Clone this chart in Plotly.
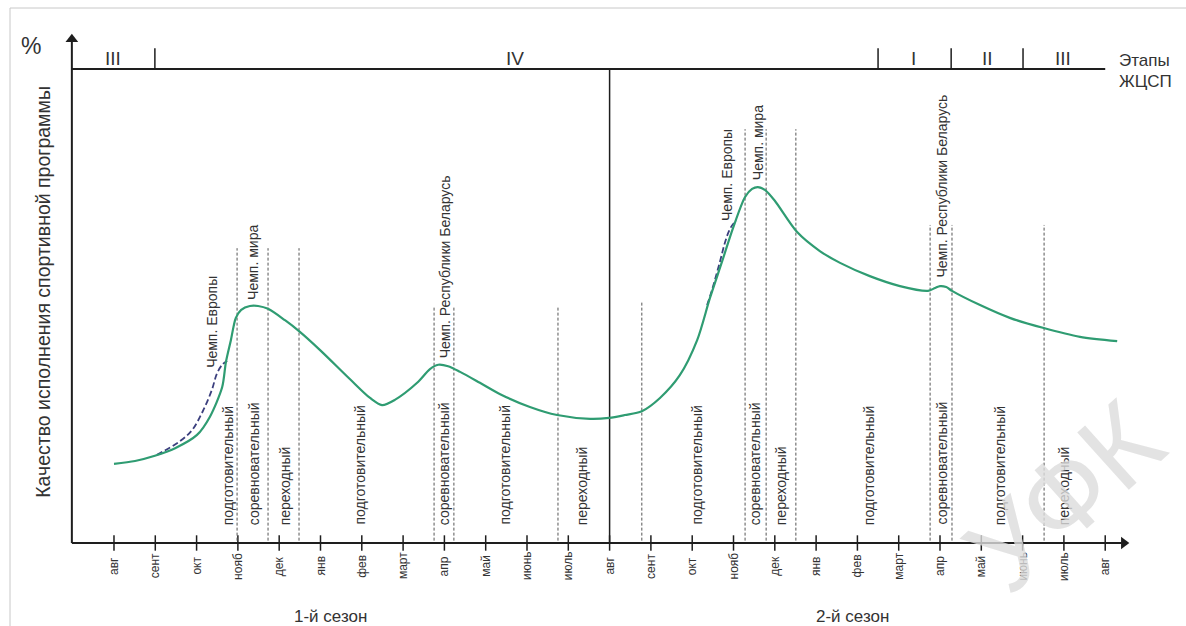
import plotly.graph_objects as go

# ---------------- data ----------------
months = ["авг", "сент", "окт", "нояб", "дек", "янв", "фев", "март", "апр", "май", "июнь", "июль"] * 2 + ["авг"]
month_x = list(range(25))

# main curve (x in months from the first August, y = quality)
curve_x = [0.00, 0.51, 0.99, 1.48, 2.01, 2.32, 2.62, 2.71, 2.83, 2.95, 3.08, 3.29, 3.49, 3.73,
           4.14, 4.48, 4.99, 5.71, 6.20, 6.49, 6.80, 7.34, 7.65, 7.85, 8.09, 8.38, 8.86, 9.35,
           10.07, 10.73, 11.53, 11.99, 12.37, 12.78, 13.22, 13.70, 14.12, 14.43, 14.72, 14.99,
           15.28, 15.45, 15.59, 15.76, 16.00, 16.54, 17.09, 17.58, 18.30, 19.03, 19.71, 19.88,
           20.00, 20.15, 20.29, 20.97, 21.69, 22.49, 23.39, 24.29]
curve_y = [16.7, 17.3, 18.4, 20.0, 22.8, 26.6, 32.9, 38.2, 42.8, 47.5, 49.2, 50.0, 50.0, 49.4,
           47.0, 44.7, 40.7, 34.6, 30.6, 29.1, 30.2, 33.8, 36.7, 37.6, 37.3, 36.1, 33.8, 31.4,
           28.7, 27.0, 26.2, 26.4, 27.0, 27.8, 30.6, 35.4, 42.8, 51.7, 59.3, 66.5,
           73.0, 74.7, 75.1, 74.5, 72.2, 65.6, 61.6, 59.1, 56.3, 54.2, 53.2, 53.8,
           54.2, 54.0, 53.2, 50.2, 47.5, 45.4, 43.5, 42.6]

# alternative (dashed) approach to the European championship
alt1_x = [1.04, 1.60, 1.89, 2.15, 2.37, 2.49, 2.62, 2.74]
alt1_y = [18.6, 21.5, 23.8, 27.8, 32.3, 35.7, 37.6, 38.4]
alt2_x = [14.36, 14.48, 14.67, 14.79, 14.89, 14.99, 15.08]
alt2_y = [50.2, 53.4, 59.3, 63.3, 65.8, 67.3, 67.9]

# phase boundaries
boundary_x = [2.98, 3.73, 4.48, 7.75, 8.23, 10.75, 12.78, 15.28, 15.79, 16.51, 19.76, 20.29, 22.52]
boundary_top = [62.2, 62.2, 62.2, 49.8, 49.8, 49.8, 51.0, 87.3, 87.3, 87.3, 67.1, 67.1, 67.1]

phase_names = ["подготовительный", "соревновательный", "переходный", "подготовительный",
               "соревновательный", "подготовительный", "переходный",
               "подготовительный", "соревновательный", "переходный", "подготовительный",
               "соревновательный", "подготовительный", "переходный"]
phase_x = [2.76, 3.41, 4.14, 5.96, 8.01, 9.47, 11.33,
           14.12, 15.52, 16.17, 18.30, 20.05, 21.45, 23.00]

event_names = ["Чемп. Европы", "Чемп. мира", "Чемп. Республики Беларусь"] * 2
event_x = [2.37, 3.37, 8.01, 14.84, 15.59, 20.05]
event_y = [36.5, 50.8, 38.6, 67.5, 76.2, 55.5]

stage_names = ["III", "IV", "I", "II", "III"]
stage_x = [-0.02, 9.71, 19.35, 21.14, 22.98]
stage_ticks = [0.99, 18.5, 20.27, 22.01]

season_names = ["1-й сезон", "2-й сезон"]
season_x = [5.25, 17.89]

# ---------------- figure ----------------
FONT = "Liberation Sans, Arial, sans-serif"
GREEN = "#2f9c72"
NAVY = "#3b3f7e"
BLACK = "#1e1e1e"

fig = go.Figure()

# axes lines
fig.add_trace(go.Scatter(x=[-1.02, -1.02], y=[0, 106], mode="lines",
                         line=dict(color=BLACK, width=2), hoverinfo="skip"))
fig.add_trace(go.Scatter(x=[-1.02, 24.4], y=[0, 0], mode="lines",
                         line=dict(color=BLACK, width=2), hoverinfo="skip"))
fig.add_trace(go.Scatter(x=[-1.02], y=[106.3], mode="markers",
                         marker=dict(symbol="triangle-up", size=11, color=BLACK), hoverinfo="skip"))
fig.add_trace(go.Scatter(x=[24.45], y=[0], mode="markers",
                         marker=dict(symbol="triangle-right", size=11, color=BLACK), hoverinfo="skip"))
# month ticks
fig.add_trace(go.Scatter(x=month_x, y=[0] * len(month_x), mode="markers",
                         marker=dict(symbol="line-ns", size=11, line=dict(color=BLACK, width=1.5)),
                         hoverinfo="skip"))
# top stage line
fig.add_trace(go.Scatter(x=[-1.02, 24.0], y=[100, 100], mode="lines",
                         line=dict(color=BLACK, width=2), hoverinfo="skip"))
for sx in stage_ticks:
    fig.add_trace(go.Scatter(x=[sx, sx], y=[100, 104.4], mode="lines",
                             line=dict(color=BLACK, width=1.5), hoverinfo="skip"))
# season separator
fig.add_trace(go.Scatter(x=[12, 12], y=[0, 100], mode="lines",
                         line=dict(color=BLACK, width=1.5), hoverinfo="skip"))

# phase boundaries
for bx, bt in zip(boundary_x, boundary_top):
    fig.add_trace(go.Scatter(x=[bx, bx], y=[0.5, bt], mode="lines",
                             line=dict(color="#555555", width=1, dash="3px,2px"), hoverinfo="skip"))

# curves
fig.add_trace(go.Scatter(x=alt1_x, y=alt1_y, mode="lines",
                         line=dict(color=NAVY, width=1.8, dash="6px,3px", shape="spline"), hoverinfo="skip"))
fig.add_trace(go.Scatter(x=alt2_x, y=alt2_y, mode="lines",
                         line=dict(color=NAVY, width=1.8, dash="6px,3px", shape="spline"), hoverinfo="skip"))
fig.add_trace(go.Scatter(x=curve_x, y=curve_y, mode="lines",
                         line=dict(color=GREEN, width=2.2, shape="spline", smoothing=0.8), hoverinfo="skip"))

ann = []
for m, x in zip(months, month_x):
    ann.append(dict(x=x, y=-4.85, text=m, textangle=-90, showarrow=False,
                    xanchor="center", yanchor="middle", font=dict(size=12, color="#333", family=FONT)))
for name, x in zip(phase_names, phase_x):
    ann.append(dict(x=x, y=3.4, text=name, textangle=-90, showarrow=False,
                    xanchor="center", yanchor="bottom", font=dict(size=14, color="#333", family=FONT)))
for name, x, y in zip(event_names, event_x, event_y):
    ann.append(dict(x=x, y=y, text=name, textangle=-90, showarrow=False,
                    xanchor="center", yanchor="bottom", font=dict(size=14, color="#333", family=FONT)))
for name, x in zip(stage_names, stage_x):
    ann.append(dict(x=x, y=102.3, text=name, showarrow=False, xanchor="center", yanchor="middle",
                    font=dict(size=19, color="#333", family=FONT)))
for name, x in zip(season_names, season_x):
    ann.append(dict(x=x, y=-15.6, text=name, showarrow=False, xanchor="center", yanchor="middle",
                    font=dict(size=17, color="#333", family=FONT)))
ann.append(dict(x=24.29, y=101.9, text="Этапы", showarrow=False, xanchor="left", yanchor="middle",
                font=dict(size=17, color="#333", family=FONT)))
ann.append(dict(x=24.29, y=97.3, text="ЖЦСП", showarrow=False, xanchor="left", yanchor="middle",
                font=dict(size=17, color="#333", family=FONT)))
ann.append(dict(x=-2.01, y=104.9, text="%", showarrow=False, xanchor="center", yanchor="middle",
                font=dict(size=23, color="#333", family=FONT)))
ann.append(dict(x=-1.72, y=53.0, text="Качество исполнения спортивной программы", textangle=-90,
                showarrow=False, xanchor="center", yanchor="middle",
                font=dict(size=19.5, color="#333", family=FONT)))
# watermark
ann.append(dict(x=23.0, y=9.8, text="УФК", textangle=-42, showarrow=False, xanchor="center",
                yanchor="middle", font=dict(size=112, color="rgba(220,220,220,0.8)", family=FONT)))

fig.update_layout(
    width=1186, height=626,
    margin=dict(l=0, r=0, t=0, b=0),
    paper_bgcolor="white", plot_bgcolor="white",
    showlegend=False,
    xaxis=dict(range=[-2.760, 25.956], visible=False, fixedrange=True),
    yaxis=dict(range=[-17.51, 114.56], visible=False, fixedrange=True),
    annotations=ann,
    shapes=[dict(type="rect", xref="paper", yref="paper", x0=10 / 1186, x1=1.2, y0=-0.2, y1=1 - 8 / 626,
                 line=dict(color="#c8c8c8", width=1), fillcolor="rgba(0,0,0,0)", layer="below")],
)

fig.write_html("out.html", config={"displayModeBar": False},
               post_script="document.body.style.margin='0';document.body.style.overflow='hidden';")
